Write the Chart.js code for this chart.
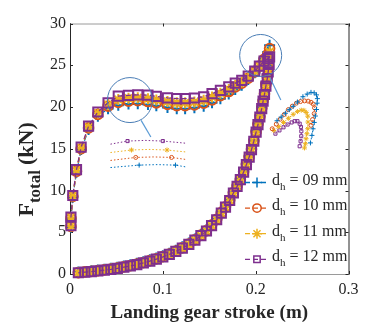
<!DOCTYPE html>
<html>
<head>
<meta charset="utf-8">
<script src="https://cdn.jsdelivr.net/npm/chart.js@4.4.1/dist/chart.umd.min.js"></script>
<style>
  body { margin: 0; background: #fff; }
</style>
</head>
<body>
<canvas id="c" width="372" height="327"></canvas>
<script>
// ---- data ----
const orificeLabels = ['09', '10', '11', '12']
const xTickValues = [0, 0.1, 0.2, 0.3]
const yTickValues = [0, 5, 10, 15, 20, 25, 30]

// landing gear stroke (m), compression branch
const loadStroke = [0.001, 0.001, 0.003, 0.007, 0.012, 0.020, 0.030, 0.041, 0.052, 0.063,
  0.073, 0.084, 0.093, 0.105, 0.115, 0.124, 0.134, 0.144, 0.153, 0.162,
  0.171, 0.178, 0.185, 0.192, 0.199, 0.204, 0.209, 0.213]
// landing gear stroke (m), extension branch (starts at the peak)
const unloadStroke = [0.215, 0.2145, 0.2135, 0.2125, 0.211, 0.2095, 0.208, 0.2065, 0.2045, 0.2025,
  0.2005, 0.198, 0.1955, 0.193, 0.19, 0.187, 0.1835, 0.18, 0.176, 0.172,
  0.1675, 0.163, 0.158, 0.1525, 0.147, 0.141, 0.1345, 0.128, 0.121, 0.114,
  0.107, 0.1, 0.093, 0.086, 0.079, 0.072, 0.065, 0.058, 0.051, 0.044,
  0.037, 0.030, 0.023, 0.016, 0.009]

// F_total (kN)
const force09Load = [5.6, 6.6, 9.2, 12.2, 14.9, 17.3, 18.9, 19.8, 20.2, 20.35,
  20.4, 20.3, 20.15, 19.95, 19.8, 19.8, 19.9, 20.1, 20.5, 21.0,
  21.55, 22.1, 22.6, 23.3, 24.1, 24.9, 25.8, 26.6]
const force10Load = [5.7, 6.7, 9.3, 12.3, 15.0, 17.5, 19.1, 20.1, 20.55, 20.7,
  20.75, 20.65, 20.5, 20.3, 20.15, 20.15, 20.25, 20.45, 20.85, 21.35,
  21.85, 22.4, 22.85, 23.45, 24.2, 24.9, 25.7, 26.3]
const force11Load = [5.75, 6.75, 9.35, 12.4, 15.1, 17.6, 19.25, 20.3, 20.9, 21.05,
  21.1, 21.0, 20.85, 20.65, 20.5, 20.5, 20.6, 20.8, 21.2, 21.65,
  22.1, 22.6, 23.0, 23.55, 24.25, 24.9, 25.6, 26.1]
const force12Load = [5.8, 6.8, 9.4, 12.5, 15.2, 17.7, 19.4, 20.5, 21.3, 21.4,
  21.46, 21.42, 21.27, 21.1, 21.0, 21.0, 21.08, 21.23, 21.6, 22.0,
  22.4, 22.85, 23.2, 23.7, 24.3, 24.9, 25.5, 25.8]

const force09Unload = [27.4, 26.2, 25.0, 23.9, 22.8, 21.7, 20.8, 19.9, 18.9, 18.0,
  17.1, 16.0, 15.0, 14.1, 13.2, 12.3, 11.4, 10.6, 9.8, 8.9,
  8.1, 7.4, 6.6, 5.9, 5.3, 4.75, 4.2, 3.7, 3.25, 2.85,
  2.5, 2.2, 1.93, 1.7, 1.48, 1.28, 1.11, 0.95, 0.81, 0.69,
  0.58, 0.48, 0.39, 0.31, 0.23]
const force10Unload = [27.0, 25.8, 24.7, 23.7, 22.7, 21.6, 20.75, 19.85, 18.85, 17.95,
  17.05, 15.95, 14.95, 14.05, 13.15, 12.25, 11.35, 10.55, 9.75, 8.85,
  8.05, 7.35, 6.55, 5.85, 5.2, 4.65, 4.1, 3.6, 3.15, 2.75,
  2.4, 2.1, 1.83, 1.6, 1.38, 1.18, 1.01, 0.86, 0.72, 0.6,
  0.5, 0.4, 0.32, 0.25, 0.17]
const force11Unload = [26.6, 25.5, 24.4, 23.5, 22.6, 21.55, 20.7, 19.8, 18.8, 17.9,
  17.0, 15.9, 14.9, 14.0, 13.1, 12.2, 11.3, 10.5, 9.7, 8.8,
  8.0, 7.3, 6.5, 5.8, 5.15, 4.6, 4.05, 3.55, 3.1, 2.7,
  2.35, 2.05, 1.78, 1.55, 1.33, 1.13, 0.97, 0.82, 0.68, 0.56,
  0.46, 0.37, 0.29, 0.22, 0.15]
const force12Unload = [26.0, 25.1, 24.2, 23.4, 22.5, 21.5, 20.7, 19.8, 18.8, 17.9,
  17.0, 15.9, 14.9, 14.0, 13.1, 12.2, 11.3, 10.5, 9.7, 8.8,
  8.0, 7.3, 6.5, 5.8, 5.15, 4.6, 4.05, 3.55, 3.1, 2.7,
  2.35, 2.05, 1.78, 1.55, 1.33, 1.13, 0.97, 0.82, 0.68, 0.56,
  0.46, 0.37, 0.29, 0.22, 0.15]

// magnified plateau (drawn in the free space below it)
const plateauX09 = [0.0436, 0.0745, 0.094, 0.1136, 0.126]
const plateauY09 = [12.75, 13.04, 13.1, 13.04, 12.8]
const plateauX10 = [0.0436, 0.0708, 0.090, 0.1094, 0.126]
const plateauY10 = [13.6, 13.96, 14.02, 13.96, 13.7]
const plateauX11 = [0.0436, 0.0662, 0.085, 0.1045, 0.126]
const plateauY11 = [14.55, 14.85, 14.92, 14.85, 14.6]
const plateauX12 = [0.0436, 0.062, 0.081, 0.100, 0.126]
const plateauY12 = [15.55, 15.92, 16.0, 15.92, 15.65]
const plateauMarks = [0, 1, 0, 1, 0]

// magnified peak (drawn to the right of it)
const peakX09 = [0.2230, 0.2275, 0.2320, 0.2362, 0.2404, 0.2450, 0.2509, 0.2555, 0.2596, 0.2630,
  0.2655, 0.2665, 0.2662, 0.2655, 0.2643, 0.2631, 0.2618, 0.2606, 0.2590]
const peakY09 = [18.35, 18.8, 19.25, 19.68, 20.08, 20.6, 21.23, 21.55, 21.75, 21.7,
  21.45, 21.0, 20.46, 19.7, 18.92, 18.15, 17.39, 16.6, 15.7]
const peakX10 = [0.2178, 0.2222, 0.2265, 0.2308, 0.2352, 0.2395, 0.2439, 0.2483, 0.2526, 0.2565,
  0.2596, 0.2620, 0.2634, 0.2630, 0.2613, 0.2596]
const peakY10 = [17.39, 17.95, 18.54, 19.1, 19.69, 20.1, 20.46, 20.65, 20.73, 20.7,
  20.57, 20.35, 19.9, 19.2, 18.5, 17.8]
const peakX11 = [0.2195, 0.2248, 0.2300, 0.2352, 0.2404, 0.2450, 0.2491, 0.2520, 0.2545, 0.2561,
  0.2563, 0.2561, 0.2552, 0.2543, 0.2535, 0.2526]
const peakY11 = [17.19, 17.65, 18.15, 18.65, 19.12, 19.45, 19.62, 19.6, 19.35, 18.9,
  18.2, 17.4, 16.8, 16.2, 15.6, 15.1]
const peakX12 = [0.2213, 0.2256, 0.2300, 0.2344, 0.2387, 0.2420, 0.2450, 0.2474, 0.2488, 0.2492,
  0.2491, 0.2484, 0.2474]
const peakY12 = [16.81, 17.2, 17.57, 17.9, 18.15, 18.3, 18.3, 18.0, 17.6, 17.1,
  16.5, 15.9, 15.3]

// magnifier circles and their leader lines
const circleX = [0.0646, 0.2054]
const circleY = [20.83, 26.17]
const leaderX1 = [0.0766, 0.0871]
const leaderY1 = [18.4, 16.4]
const leaderX2 = [0.2153, 0.2271]
const leaderY2 = [23.54, 20.85]

// ---- styling ----
const colors = ['#0072BD', '#D95319', '#EDB120', '#7E2F8E']
const markers = ['cross', 'circle', 'star', 'rect']
const markerSize = [5.5, 4.8, 5.5, 6.5]
const legendSize = [5, 4.2, 5, 4.5]
const smallSize = [2.5, 2, 2.5, 2.2]
const serif = "'Liberation Serif', 'Times New Roman', serif"
const ink = '#262626'
const none = 'rgba(0,0,0,0)'

const pts = (xs, ys) => xs.map((x, i) => ({ x: x, y: ys[i] }))

const loads = [force09Load, force10Load, force11Load, force12Load]
const unloads = [force09Unload, force10Unload, force11Unload, force12Unload]
const plateaus = [[plateauX09, plateauY09], [plateauX10, plateauY10], [plateauX11, plateauY11], [plateauX12, plateauY12]]
const peaks = [[peakX09, peakY09], [peakX10, peakY10], [peakX11, peakY11], [peakX12, peakY12]]

const datasets = []
colors.forEach((c, i) => {
    datasets.push({
        data: pts(loadStroke.concat(unloadStroke), loads[i].concat(unloads[i])),
        showLine: true,
        borderColor: c,
        borderWidth: 1.3,
        borderDash: [5, 3],
        pointStyle: markers[i],
        pointRadius: markerSize[i],
        pointBorderWidth: 2,
        pointBorderColor: c,
        pointBackgroundColor: none,
        clip: false,
        order: 10 - i
    })
    datasets.push({
        data: pts(plateaus[i][0], plateaus[i][1]),
        showLine: true,
        borderColor: c,
        borderWidth: 1,
        borderDash: [1.5, 2],
        pointStyle: markers[i],
        pointRadius: plateauMarks.map(m => m * smallSize[i]),
        pointBorderWidth: 1,
        pointBorderColor: c,
        pointBackgroundColor: none,
        order: 5
    })
    datasets.push({
        data: pts(peaks[i][0], peaks[i][1]),
        showLine: true,
        borderColor: c,
        borderWidth: 1,
        borderDash: [1.5, 2],
        pointStyle: markers[i],
        pointRadius: smallSize[i],
        pointBorderWidth: 1,
        pointBorderColor: c,
        pointBackgroundColor: none,
        order: 5
    })
})
datasets.push({
    data: pts(circleX, circleY),
    showLine: false,
    pointStyle: 'circle',
    pointRadius: [22.5, 21],
    pointBorderWidth: 1,
    pointBorderColor: '#4a7db5',
    pointBackgroundColor: none,
    order: 0
})
;[[leaderX1, leaderY1], [leaderX2, leaderY2]].forEach(l => datasets.push({
    data: pts(l[0], l[1]),
    showLine: true,
    borderColor: '#5b9bd5',
    borderWidth: 1.2,
    pointRadius: 0,
    order: 0
}))

// box, inward ticks, axis titles and legend (with subscripts)
const decorations = {
    id: 'decorations',
    beforeDatasetsDraw(chart) {
        const ctx = chart.ctx
        const a = chart.chartArea
        const xs = chart.scales.x, ys = chart.scales.y
        ctx.save()
        ctx.lineWidth = 1
        ctx.strokeStyle = '#9a9a9a'
        ctx.beginPath()
        ctx.moveTo(a.left, a.top + 0.5); ctx.lineTo(a.right, a.top + 0.5)
        ctx.moveTo(a.left, a.bottom + 0.5); ctx.lineTo(a.right, a.bottom + 0.5)
        ctx.stroke()
        ctx.strokeStyle = ink
        ctx.beginPath()
        ctx.moveTo(a.left + 0.5, a.top); ctx.lineTo(a.left + 0.5, a.bottom + 1)
        ctx.moveTo(a.right + 0.5, a.top); ctx.lineTo(a.right + 0.5, a.bottom + 1)
        xs.ticks.forEach(t => {
            const px = Math.round(xs.getPixelForValue(t.value)) + 0.5
            ctx.moveTo(px, a.bottom); ctx.lineTo(px, a.bottom - 3)
            ctx.moveTo(px, a.top); ctx.lineTo(px, a.top + 3)
        })
        ys.ticks.forEach(t => {
            const py = Math.round(ys.getPixelForValue(t.value)) + 0.5
            ctx.moveTo(a.left, py); ctx.lineTo(a.left + 3, py)
            ctx.moveTo(a.right, py); ctx.lineTo(a.right - 3, py)
        })
        ctx.stroke()
        ctx.restore()
    },
    afterDraw(chart) {
        const ctx = chart.ctx
        const a = chart.chartArea
        ctx.save()
        ctx.fillStyle = ink
        // x title
        ctx.font = 'bold 19px ' + serif
        ctx.textAlign = 'center'
        ctx.textBaseline = 'alphabetic'
        ctx.fillText('Landing gear stroke (m)', (a.left + a.right) / 2, a.bottom + 44)
        // y title: F_total (kN)
        ctx.save()
        ctx.translate(a.left - 37, a.top + 193)
        ctx.rotate(-Math.PI / 2)
        ctx.textAlign = 'left'
        ctx.font = 'bold 22px ' + serif
        ctx.fillText('F', 0, 0)
        let w = ctx.measureText('F').width
        ctx.font = 'bold 17px ' + serif
        ctx.fillText('total', w, 7)
        w += ctx.measureText('total').width + 5
        ctx.font = 'bold 22px ' + serif
        ctx.fillText('(kN)', w, 0)
        ctx.restore()
        // legend
        orificeLabels.forEach((lab, i) => {
            const y = a.top + 159 + i * 25.6
            const x0 = a.left + 175
            ctx.strokeStyle = colors[i]
            ctx.lineWidth = 1.3
            ctx.setLineDash([5, 3])
            ctx.beginPath(); ctx.moveTo(x0, y); ctx.lineTo(x0 + 23, y); ctx.stroke()
            ctx.setLineDash([])
            ctx.lineWidth = 1.5
            ctx.fillStyle = none
            Chart.helpers.drawPoint(ctx, { pointStyle: markers[i], radius: legendSize[i], borderWidth: 1.5, rotation: 0 }, x0 + 12, y)
            ctx.fillStyle = ink
            ctx.textAlign = 'left'
            ctx.font = '16px ' + serif
            ctx.fillText('d', x0 + 27, y + 2)
            let tx = x0 + 27 + ctx.measureText('d').width
            ctx.font = '11px ' + serif
            ctx.fillText('h', tx, y + 7)
            tx += ctx.measureText('h').width
            ctx.font = '16px ' + serif
            ctx.fillText(' = ' + lab + ' mm', tx, y + 2)
        })
        ctx.restore()
    }
}

new Chart(document.getElementById('c').getContext('2d'), {
    type: 'scatter',
    data: { datasets: datasets },
    options: {
        responsive: false,
        animation: false,
        events: [],
        layout: { padding: { top: 14, right: 15, left: 0, bottom: 0 } },
        plugins: { legend: { display: false }, tooltip: { enabled: false } },
        elements: { line: { tension: 0 } },
        scales: {
            x: {
                type: 'linear', min: 0, max: 0.3,
                afterBuildTicks: s => { s.ticks = xTickValues.map(v => ({ value: v })) },
                afterFit: s => { s.height = 53 },
                grid: { display: false, drawTicks: false },
                border: { display: false },
                ticks: { padding: 6, color: ink, font: { family: serif, size: 16 }, maxRotation: 0,
                    callback: v => String(+v.toFixed(1)) }
            },
            y: {
                type: 'linear', min: 0, max: 30,
                afterBuildTicks: s => { s.ticks = yTickValues.map(v => ({ value: v })) },
                afterFit: s => { s.width = 70 },
                grid: { display: false, drawTicks: false },
                border: { display: false },
                ticks: { padding: 4, color: ink, font: { family: serif, size: 16 } }
            }
        }
    },
    plugins: [decorations]
})
</script>
</body>
</html>
